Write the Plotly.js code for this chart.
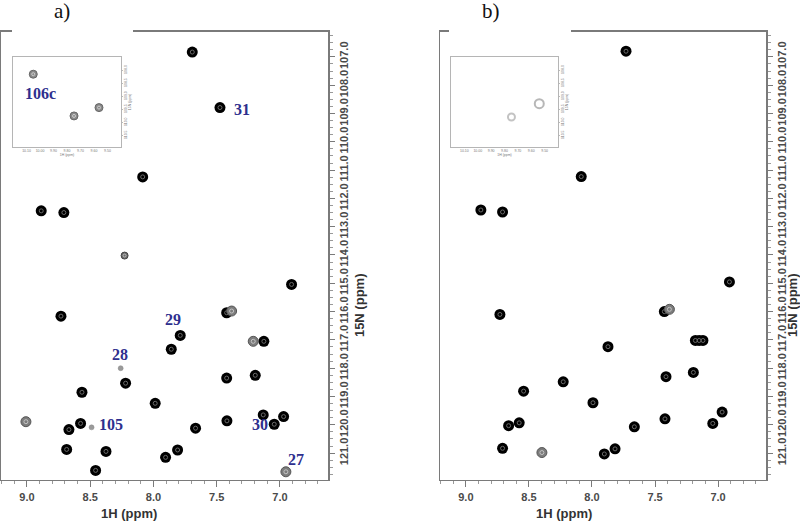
<!DOCTYPE html>
<html><head><meta charset="utf-8">
<script src="https://cdn.plot.ly/plotly-3.0.1.min.js"></script>
<style>html,body{margin:0;padding:0;background:#fff;}#chart{width:800px;height:521px;}</style>
</head><body><div id="chart"></div>
<script>
// Panel a) peaks: 1H ppm, 15N ppm, style class (k=strong, g=weak grey, s=small, t=tiny)
const aH = [7.693,7.474,8.085,8.887,8.708,8.228,6.908,8.731,7.421,7.382,7.788,7.859,7.211,7.127,8.259,8.220,7.421,7.195,8.565,7.986,9.008,8.668,8.576,8.489,7.667,7.419,7.132,7.045,6.971,8.686,8.375,7.904,7.809,8.457,6.953];
const aN = [106.83,108.79,111.24,112.44,112.50,114.02,115.04,116.16,116.04,115.98,116.84,117.33,117.05,117.05,118.00,118.53,118.35,118.25,118.85,119.24,119.89,120.17,119.95,120.09,120.12,119.86,119.65,119.98,119.71,120.87,120.94,121.15,120.89,121.61,121.66];
const aCls = ['k','k','k','k','k','s','k','k','k','g','k','k','g','k','t','k','k','k','k','k','g','k','k','t','k','k','k','k','k','k','k','k','k','k','g'];

// Panel b) peaks
const bH = [7.730,7.452,8.085,8.881,8.709,6.910,8.730,7.426,7.386,7.873,7.180,7.150,7.120,8.228,7.413,7.196,8.542,7.992,9.024,8.661,8.577,7.664,7.421,7.095,7.042,6.968,8.709,8.397,7.902,7.817];
const bN = [106.80,108.71,111.23,112.41,112.48,114.95,116.10,116.00,115.92,117.24,117.02,117.02,117.02,118.48,118.30,118.15,118.81,119.22,119.89,120.03,119.93,120.07,119.79,119.81,119.95,119.55,120.83,120.98,121.03,120.85];
const bCls = ['k','o','k','k','k','k','k','k','g','k','k','k','k','k','k','k','k','k','l','k','k','k','k','l','k','k','k','g','k','k'];

// Inset peaks (side-chain region)
const insAH = [10.05,9.748,9.563];
const insAN = [108.16,109.76,109.44];
const insBH = [9.748,9.54];
const insBN = [109.80,109.29];

// Residue labels in panel a)
const labText = ['31','29','28','105','30','27'];
const labH = [7.30,7.848,8.265,8.336,7.158,6.876];
const labN = [108.87,116.27,117.51,119.98,119.98,121.22];

const xTicks = [9.0,8.5,8.0,7.5,7.0];
const yTicks = [107,108,109,110,111,112,113,114,115,116,117,118,119,120,121];
const insXTicks = [10.1,10.0,9.9,9.8,9.7,9.6,9.5];
const insYTicks = [108.0,108.5,109.0,109.5,110.0,110.5];

const styles = {
  k:{size:11, color:'#000', line:{color:'#000',width:0}, inner:'#6a6a6a', innerSize:4},
  g:{size:10, color:'#7c7c7c', line:{color:'#555',width:1}, inner:'#c4c4c4', innerSize:4},
  s:{size:7, color:'#6a6a6a', line:{color:'#444',width:1}, inner:'#bbb', innerSize:3},
  t:{size:5, color:'#9a9a9a', line:{color:'#888',width:0.5}, inner:null},
  o:{size:9, color:'rgba(0,0,0,0)', line:{color:'#222',width:2}, inner:null, symbol:'circle-open'},
  l:{size:9, color:'rgba(0,0,0,0)', line:{color:'#888',width:1.5}, inner:null, symbol:'circle-open'}
};

function peakTraces(H, N, cls, xa, ya) {
  const out = [];
  Object.keys(styles).forEach(c => {
    const xs = [], ys = [];
    cls.forEach((v,i)=>{ if(v===c){ xs.push(H[i]); ys.push(N[i]); } });
    if(!xs.length) return;
    const st = styles[c];
    out.push({type:'scatter', mode:'markers', x:xs, y:ys, xaxis:xa, yaxis:ya, hoverinfo:'x+y', showlegend:false,
      marker:{symbol:st.symbol||'circle', size:st.size, color:st.color, line:st.line}});
    if(st.inner) out.push({type:'scatter', mode:'markers', x:xs, y:ys, xaxis:xa, yaxis:ya, hoverinfo:'skip', showlegend:false,
      marker:{symbol:'circle-open', size:st.innerSize, color:st.inner, line:{color:st.inner,width:1}}});
  });
  return out;
}

const data = [].concat(
  peakTraces(aH,aN,aCls,'x','y'),
  peakTraces(bH,bN,bCls,'x2','y2'),
  [{type:'scatter',mode:'markers',x:insAH,y:insAN,xaxis:'x3',yaxis:'y3',showlegend:false,
     marker:{size:8,color:'#8a8a8a',line:{color:'#666',width:1}}},
   {type:'scatter',mode:'markers',x:insAH,y:insAN,xaxis:'x3',yaxis:'y3',showlegend:false,hoverinfo:'skip',
     marker:{symbol:'circle-open',size:3,color:'#ccc',line:{color:'#ccc',width:1}}},
   {type:'scatter',mode:'markers',x:insBH,y:insBN,xaxis:'x4',yaxis:'y4',showlegend:false,
     marker:{symbol:'circle-open',size:[7,9],color:['#aaa','#999'],line:{width:2}}}]
);

const tickFont = {family:'Liberation Sans, Arial', size:11, color:'#4a4a4a', weight:'bold'};
const frame = {showline:true, mirror:true, linecolor:'#7a7a7a', linewidth:1.5, showgrid:false, zeroline:false};
function mainX(dom, anchor){ return Object.assign({}, frame, {domain:dom, anchor:anchor, range:[9.205,6.62], tickvals:xTicks,
  tickformat:'.1f', ticks:'outside', ticklen:6, tickcolor:'#7a7a7a', tickfont:tickFont,
  minor:{dtick:0.1, tick0:7, ticks:'outside', ticklen:3, tickcolor:'#9a9a9a'}}); }
function mainY(anchor){ return Object.assign({}, frame, {domain:[0.0787,0.9386], anchor:anchor, side:'right', range:[121.95,106.12],
  tickvals:yTicks, tickformat:'.1f', ticks:'outside', ticklen:5, tickcolor:'#7a7a7a', tickangle:-90, tickfont:tickFont,
  minor:{dtick:0.25, tick0:107, ticks:'outside', ticklen:3, tickcolor:'#9a9a9a'}}); }
const insFont = {family:'Liberation Sans, Arial', size:3.5, color:'#777'};
function insX(dom, anchor){ return {domain:dom, anchor:anchor, range:[10.2,9.4], showline:true, mirror:true, linecolor:'#b5b5b5', linewidth:1,
  showgrid:false, zeroline:false, tickvals:insXTicks, tickformat:'.2f', ticks:'', tickfont:insFont,
  title:{text:'1H (ppm)', font:insFont, standoff:1}}; }
function insY(anchor){ return {domain:[0.7179,0.8906], anchor:anchor, side:'right', range:[110.95,107.5], showline:true, mirror:true,
  linecolor:'#b5b5b5', linewidth:1, showgrid:false, zeroline:false, tickvals:insYTicks, tickformat:'.1f', ticks:'outside', ticklen:1,
  tickcolor:'#bbb', tickangle:-90, tickfont:insFont, title:{text:'15N (ppm)', font:insFont, standoff:1}}; }

const navy = '#2e2f8e';
const annotations = labText.map((t,i)=>({text:t, x:labH[i], y:labN[i], xref:'x', yref:'y', showarrow:false,
  font:{family:'Liberation Serif, Times New Roman', size:16, color:navy, weight:'bold'}}));
annotations.push({text:'106c', x:10.0, y:108.9, xref:'x3', yref:'y3', showarrow:false,
  font:{family:'Liberation Serif, Times New Roman', size:16, color:navy, weight:'bold'}});
annotations.push({text:'a)', x:52/800, y:1-11/521, xref:'paper', yref:'paper', yanchor:'middle', showarrow:false,
  font:{family:'Liberation Serif, Times New Roman', size:21, color:'#111'}});
annotations.push({text:'b)', x:491/800, y:1-11/521, xref:'paper', yref:'paper', yanchor:'middle', showarrow:false,
  font:{family:'Liberation Serif, Times New Roman', size:21, color:'#111'}});
const axTitleFont = {family:'Liberation Sans, Arial', size:13, color:'#333', weight:'bold'};
annotations.push({text:'1H (ppm)', x:8.19, y:1-513/521, xref:'x', yref:'paper', yanchor:'middle', showarrow:false, font:axTitleFont});
annotations.push({text:'1H (ppm)', x:8.22, y:1-513/521, xref:'x2', yref:'paper', yanchor:'middle', showarrow:false, font:axTitleFont});
annotations.push({text:'15N (ppm)', x:359/800, y:115.77, xref:'paper', yref:'y', xanchor:'center', showarrow:false, textangle:-90, font:axTitleFont});
annotations.push({text:'15N (ppm)', x:792/800, y:115.77, xref:'paper', yref:'y2', xanchor:'center', showarrow:false, textangle:-90, font:axTitleFont});

const shapes = [
  {type:'rect', xref:'paper', yref:'paper', x0:12/800, x1:133/800, y0:1-35/521, y1:1-29/521, fillcolor:'#fff', line:{width:0}, layer:'above'},
  {type:'rect', xref:'paper', yref:'paper', x0:449/800, x1:571/800, y0:1-35/521, y1:1-29/521, fillcolor:'#fff', line:{width:0}, layer:'above'}
];

const layout = {
  width:800, height:521, margin:{l:0,r:0,t:0,b:0}, paper_bgcolor:'#fff', plot_bgcolor:'#fff', showlegend:false,
  xaxis: mainX([1/800, 328/800], 'y'),
  yaxis: mainY('x'),
  xaxis2: mainX([440/800, 766/800], 'y2'),
  yaxis2: mainY('x2'),
  xaxis3: insX([13/800, 121/800], 'y3'),
  yaxis3: insY('x3'),
  xaxis4: insX([451/800, 558/800], 'y4'),
  yaxis4: insY('x4'),
  annotations: annotations, shapes: shapes
};
Plotly.newPlot('chart', data, layout, {staticPlot:true, displayModeBar:false});
</script></body></html>
